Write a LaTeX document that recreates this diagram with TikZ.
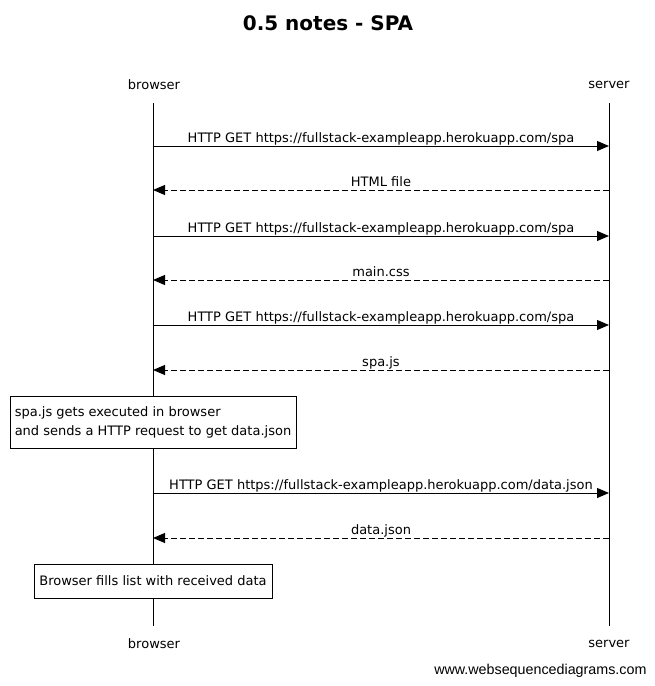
\documentclass[tikz,border=0pt]{standalone}
\usepackage{fontspec}
\setmainfont{DejaVu Sans}
\newfontfamily\footfont{Liberation Sans}
\usepackage{tikz}
\usetikzlibrary{
  positioning,
  arrows.meta
}

\begin{document}
\begin{tikzpicture}[x=1pt,y=-1pt,>={Triangle[length=12pt,width=10pt]},
    font=\fontsize{13}{16}\selectfont,
    actor/.style={inner sep=0pt},
    msglabel/.style={above=-3.5pt,text height=9.5pt,text depth=3.2pt},
    call/.style={->,line width=1pt},
    reply/.style={->,line width=1pt,dash pattern=on 6pt off 3pt},
    note/.style={draw,line width=1pt,fill=white,align=left,inner sep=0pt,font=\fontsize{13}{19}\selectfont}]
            \useasboundingbox (0,0) rectangle (655,686);
            \node[font=\fontsize{20}{24}\selectfont\bfseries] (title) at (328,23) {0.5 notes - SPA};
            % lifelines
            \node[actor] (bTop) at (154,85) {browser};
            \node[actor] (sTop) at (609,85) {server};
            \node[actor] (bBot) at (154,644) {browser};
            \node[actor] (sBot) at (609,644) {server};
            \coordinate (bA) at (153,103);
            \coordinate (bZ) at (153,626);
            \coordinate (sA) at (609,103);
            \coordinate (sZ) at (609,626);
            \draw[line width=1pt] (bA) -- (bZ);
            \draw[line width=1pt] (sA) -- (sZ);
            \foreach \y [count=\i] in {146,190,236,280,325,370,493,538} {
                \coordinate (b\i) at (153,\y);
                \coordinate (s\i) at (609,\y);
            }
            % messages
            \draw[call] (b1) -- node[msglabel] {HTTP GET https://fullstack-exampleapp.herokuapp.com/spa} (s1);
            \draw[reply] (s2) -- node[msglabel] {HTML file} (b2);
            \draw[call] (b3) -- node[msglabel] {HTTP GET https://fullstack-exampleapp.herokuapp.com/spa} (s3);
            \draw[reply] (s4) -- node[msglabel] {main.css} (b4);
            \draw[call] (b5) -- node[msglabel] {HTTP GET https://fullstack-exampleapp.herokuapp.com/spa} (s5);
            \draw[reply] (s6) -- node[msglabel] {spa.js} (b6);
            \draw[call] (b7) -- node[msglabel] {HTTP GET https://fullstack-exampleapp.herokuapp.com/data.json} (s7);
            \draw[reply] (s8) -- node[msglabel] {data.json} (b8);
            % notes
            \node[note,minimum width=286pt,minimum height=52pt] (exec) at (153,422) {spa.js gets executed in browser\\and sends a HTTP request to get data.json};
            \node[note,minimum width=238pt,minimum height=34pt] (fill) at (153,581) {Browser fills list with received data};
            \node[font=\footfont\fontsize{14.3}{16}\selectfont,anchor=east] (site) at (650,671) {www.websequencediagrams.com};
        \end{tikzpicture}
\end{document}
